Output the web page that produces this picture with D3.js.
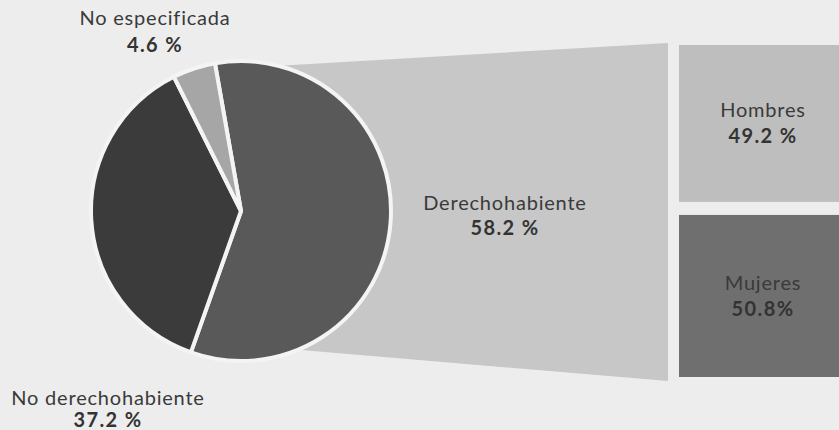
<!DOCTYPE html>
<html><head><meta charset="utf-8">
<script src="https://cdn.jsdelivr.net/npm/d3@7"></script>
<style>
html,body{margin:0;padding:0;background:#ededed;}
svg{display:block;}
text{font-family:Lato,"Open Sans",sans-serif;fill:#3a3a3a;}
</style></head>
<body>
<svg id="chart" width="839" height="430"></svg>
<script>
const pieLabels = ["Derechohabiente", "No derechohabiente", "No especificada"];
const pieValues = [58.2, 37.2, 4.6];
const pieValueText = ["58.2 %", "37.2 %", "4.6 %"];
const barLabels = ["Hombres", "Mujeres"];
const barValues = [49.2, 50.8];
const barValueText = ["49.2 %", "50.8%"];

const W = 839, H = 430;
const svg = d3.select("#chart");
svg.append("rect").attr("width", W).attr("height", H).attr("fill", "#ededed");

const cx = 241, cy = 211, R = 150;
const pieColors = ["#595959", "#3b3b3b", "#a6a6a6"];

// connector trapezoid (behind pie)
const trap = [[cx, 68], [668, 43], [668, 381], [cx, 345]];
svg.append("path")
  .attr("d", d3.line()(trap) + "Z")
  .attr("fill", "#c7c7c7");

// pie
const pie = d3.pie().sort(null).value(d => d)
  .startAngle(-10 * Math.PI / 180)
  .endAngle(350 * Math.PI / 180);
const arcs = pie(pieValues);
const arc = d3.arc().innerRadius(0).outerRadius(R);
const g = svg.append("g").attr("transform", `translate(${cx},${cy})`);
g.selectAll("path").data(arcs).join("path")
  .attr("d", arc)
  .attr("fill", (d, i) => pieColors[i])
  .attr("stroke", "#f4f4f4")
  .attr("stroke-width", 4)
  .attr("stroke-linejoin", "round");

// bar of pie (stacked)
const barX = 679, barW = 170, gap = 13;
const y = d3.scaleLinear().domain([0, 100]).range([45, 377 - gap]);
const barColors = ["#bebebe", "#6f6f6f"];
const stacked = [];
let acc = 0;
barValues.forEach((v, i) => { stacked.push({ y0: acc, y1: acc + v, i }); acc += v; });
svg.selectAll("rect.bar").data(stacked).join("rect")
  .attr("class", "bar")
  .attr("x", barX)
  .attr("y", d => y(d.y0) + d.i * gap)
  .attr("width", barW)
  .attr("height", d => y(d.y1) - y(d.y0))
  .attr("fill", d => barColors[d.i]);

// labels
function label(x, yName, yVal, name, val) {
  svg.append("text").attr("x", x).attr("y", yName).attr("text-anchor", "middle")
    .attr("font-size", 20).attr("letter-spacing", 0.8).text(name);
  svg.append("text").attr("x", x).attr("y", yVal).attr("text-anchor", "middle")
    .attr("font-size", 20).attr("letter-spacing", 1.4).attr("font-weight", "bold")
    .style("fill", "#333").text(val);
}
label(505, 210, 235, pieLabels[0], pieValueText[0]);
label(108, 405, 427, pieLabels[1], pieValueText[1]);
label(155, 25, 52, pieLabels[2], pieValueText[2]);
stacked.forEach(d => {
  const mid = (y(d.y0) + y(d.y1)) / 2 + d.i * gap;
  label(763, mid - 6, mid + 20, barLabels[d.i], barValueText[d.i]);
});
</script>
</body></html>
